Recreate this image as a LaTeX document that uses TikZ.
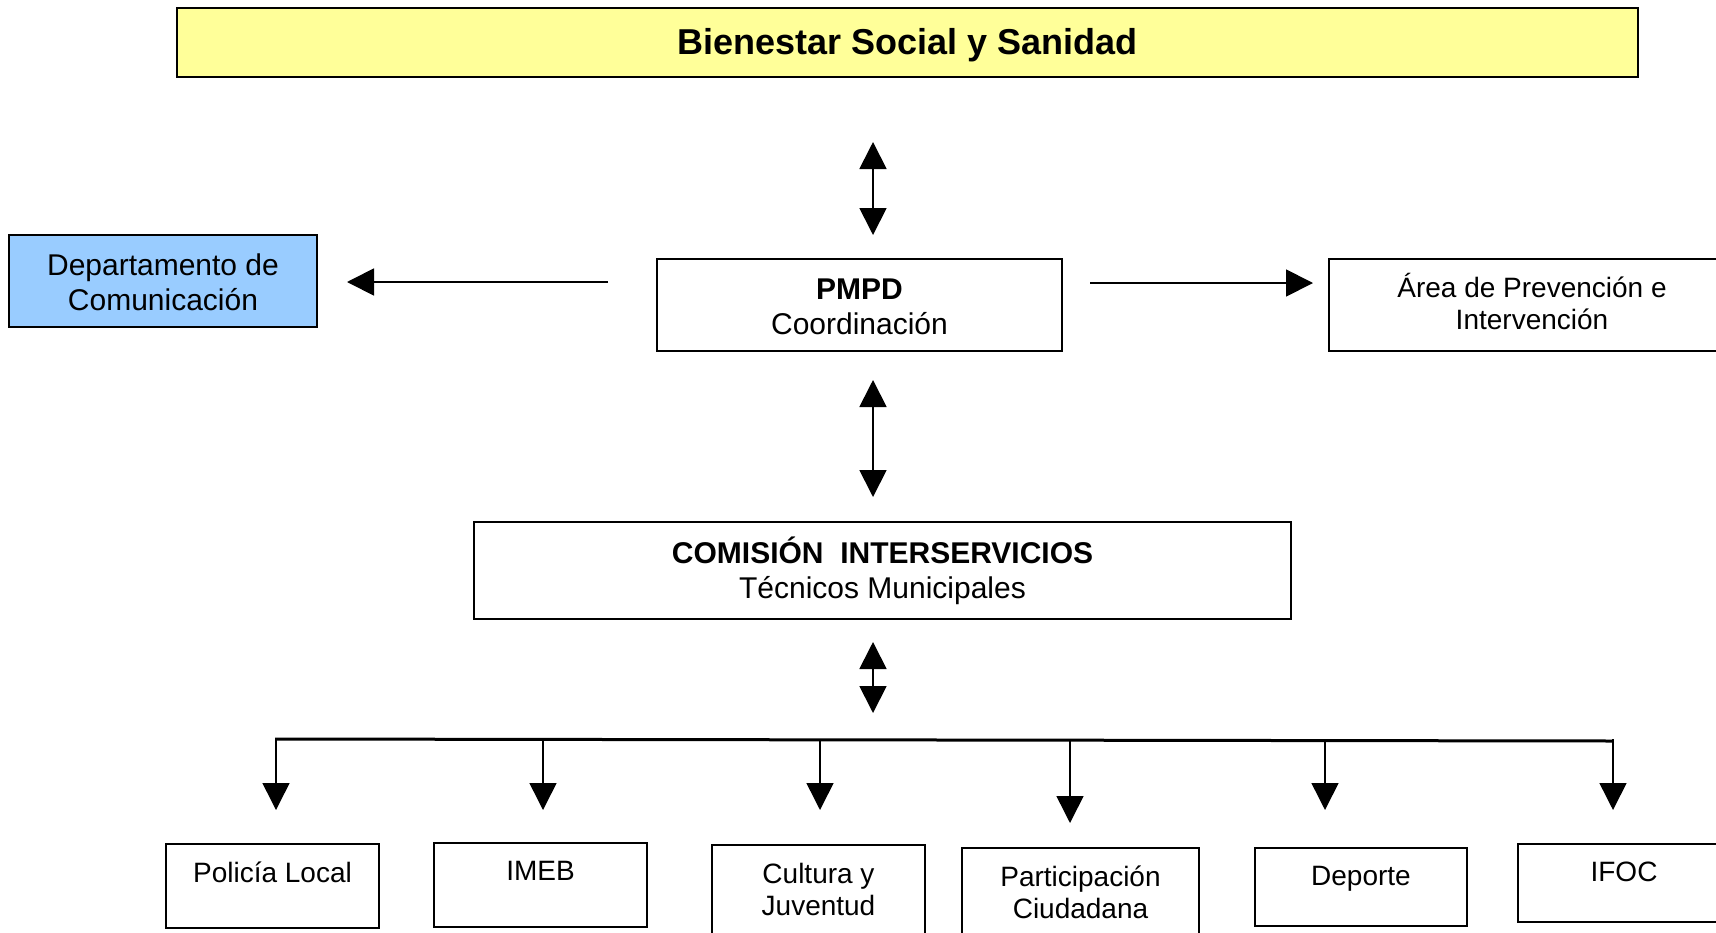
\documentclass[tikz,border=0pt]{standalone}
\usepackage{fontspec}
\setmainfont{Liberation Sans}
\usetikzlibrary{arrows.meta}
\definecolor{titleyellow}{HTML}{FFFF99}
\definecolor{deptblue}{HTML}{99CCFF}
\begin{document}
\begin{tikzpicture}[x=1pt,y=-1pt,
  box/.style={draw=black, line width=2pt, inner sep=0pt, align=center, font=\fontsize{30}{35}\selectfont},
  sbox/.style={draw=black, line width=2pt, inner sep=0pt},
  txt/.style={inner sep=0pt, align=center, font=\fontsize{30}{35}\selectfont},
  lbl/.style={inner sep=0pt, align=center, anchor=north, font=\fontsize{28}{32}\selectfont},
  conn/.style={line width=1.8pt, -{Triangle[length=27pt,width=27pt]}},
  dconn/.style={line width=1.8pt, {Triangle[length=27pt,width=27pt]}-{Triangle[length=27pt,width=27pt]}},
  cconn/.style={line width=1.5pt, -{Triangle[length=27pt,width=27pt]}},
  bus/.style={line width=3pt}]
\useasboundingbox (0,0) rectangle (1716,932);
\clip (0,0) rectangle (1716,932);

% main boxes
\node[sbox, fill=titleyellow, minimum width=1461pt, minimum height=69pt] (title) at (907.5,42.5) {};
\node[txt, font=\fontsize{36}{40}\selectfont\bfseries] (titlet) at ([yshift=-3pt]title.center) {Bienestar Social y Sanidad};
\node[box, fill=deptblue, minimum width=308pt, minimum height=92pt] (dept) at (163,281) {};
\node[txt] (deptt) at ([yshift=-1pt]dept.center) {Departamento de\\Comunicación};
\node[sbox, minimum width=405pt, minimum height=92pt] (pmpd) at (859.5,305) {};
\node[txt] (pmpdt) at ([yshift=-2pt]pmpd.center) {\textbf{PMPD}\\Coordinación};
\node[sbox, minimum width=406pt, minimum height=92pt] (area) at (1532,305) {};
\node[txt, font=\fontsize{28}{32}\selectfont] (areat) at ([yshift=4pt]area.center) {Área de Prevención e\\Intervención};
\node[box, minimum width=817pt, minimum height=97pt] (com) at (882.5,570.5) {\textbf{COMISIÓN\ \ INTERSERVICIOS}\\Técnicos Municipales};

% bottom boxes
\node[sbox, minimum width=213pt, minimum height=84pt] (pol) at (272.5,886) {};
\node[lbl] (polt) at ([yshift=-19pt]pol.north) {Policía Local};
\node[sbox, minimum width=213pt, minimum height=84pt] (imeb) at (540.5,885) {};
\node[lbl] (imebt) at ([yshift=-19pt]imeb.north) {IMEB};
\node[sbox, minimum width=213pt, minimum height=100pt] (cult) at (818.5,895) {};
\node[lbl] (cultt) at ([yshift=-19pt]cult.north) {Cultura y\\Juventud};
\node[sbox, minimum width=237pt, minimum height=102pt] (part) at (1080.5,899) {};
\node[lbl] (partt) at ([yshift=-19pt]part.north) {Participación\\Ciudadana};
\node[sbox, minimum width=212pt, minimum height=78pt] (dep) at (1361,887) {};
\node[lbl] (dept2) at ([yshift=-19pt]dep.north) {Deporte};
\node[sbox, minimum width=212pt, minimum height=78pt] (ifoc) at (1624,883) {};
\node[lbl] (ifoct) at ([yshift=-19pt]ifoc.north) {IFOC};

% connectors
\coordinate (t1) at (873,142); \coordinate (t2) at (873,235);
\draw[dconn] (t1) -- (t2);
\coordinate (l1) at (608,282); \coordinate (l2) at (347,282);
\draw[conn] (l1) -- (l2);
\coordinate (r1) at (1090,283); \coordinate (r2) at (1313,283);
\draw[conn] (r1) -- (r2);
\coordinate (m1) at (873,380); \coordinate (m2) at (873,497);
\draw[dconn] (m1) -- (m2);
\coordinate (b1) at (873,642); \coordinate (b2) at (873,713);
\draw[dconn] (b1) -- (b2);

\coordinate (busL) at (275,739); \coordinate (busR) at (1613,741);
\draw[bus] (busL) -- (busR);
\foreach \x/\e [count=\i] in {276/810, 543/810, 820/810, 1070/823, 1325/810, 1613/810} {
  \coordinate (cs\i) at (\x,739);
  \coordinate (ce\i) at (\x,\e);
  \draw[cconn] (cs\i) -- (ce\i);
}
\end{tikzpicture}
\end{document}
